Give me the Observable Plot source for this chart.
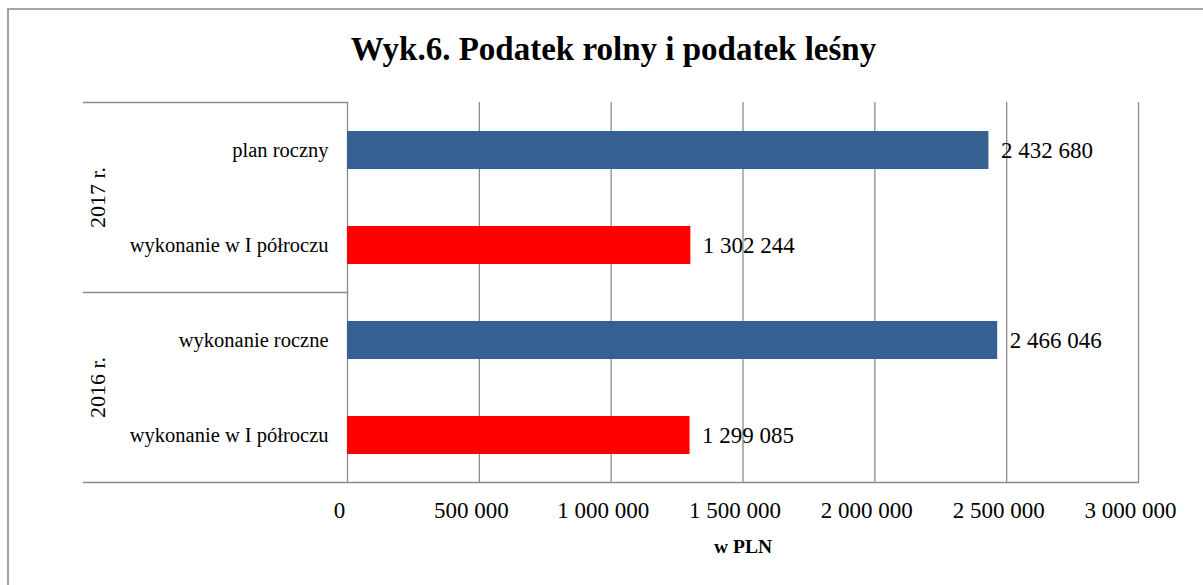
<!DOCTYPE html>
<html>
<head>
<meta charset="utf-8">
<script src="https://cdn.jsdelivr.net/npm/d3@7"></script>
<script src="https://cdn.jsdelivr.net/npm/@observablehq/plot@0.6"></script>
<style>
  html, body { margin: 0; padding: 0; background: #fff; overflow: hidden; }
  #wrap { position: relative; width: 1203px; height: 585px; overflow: hidden; }
  #border { position: absolute; left: 7px; top: 8px; width: 1300px; height: 700px; border: 2px solid #a3a3a3; box-sizing: border-box; }
  #title { position: absolute; left: 0; top: 33px; width: 1227px; text-align: center;
           font: bold 33px "Liberation Serif", "Times New Roman", serif; line-height: 33px; color: #000; }
  #chart { position: absolute; left: 0; top: 0; }
  #chart svg text { font-family: "Liberation Serif", "Times New Roman", serif; }
</style>
</head>
<body>
<div id="wrap">
  <div id="border"></div>
  <div id="title">Wyk.6. Podatek rolny i podatek leśny</div>
  <div id="chart"></div>
</div>
<script>
// ---- data ----
const groups = ["2017 r.", "2017 r.", "2016 r.", "2016 r."];
const categories = ["plan roczny", "wykonanie w I półroczu", "wykonanie roczne", "wykonanie w I półroczu"];
const slots = ["góra", "dół", "góra", "dół"];
const kinds = ["roczne", "półrocze", "roczne", "półrocze"];
const values = [2432680, 1302244, 2466046, 1299085];
const groupOrder = ["2017 r.", "2016 r."];
const xTicks = [0, 500000, 1000000, 1500000, 2000000, 2500000, 3000000];
const xLabel = ["w PLN"];
const kindColors = ["#376092", "#FF0000"];

const rows = values.map((v, i) => ({
  group: groups[i], slot: slots[i], category: categories[i], kind: kinds[i], value: v
}));

const fmt = v => d3.format(",")(v).replace(/,/g, " ");
const gridColor = "#8c8c8c";
const serif = "'Liberation Serif', 'Times New Roman', serif";

const chart = Plot.plot({
  width: 1203,
  height: 585,
  marginLeft: 347,
  marginRight: 65,
  marginTop: 101,
  marginBottom: 103,
  style: { fontFamily: serif, fontSize: "22px", color: "#000", background: "transparent", overflow: "visible" },
  x: { domain: [0, 3000000], axis: null },
  fy: { domain: groupOrder, padding: 0, axis: null, label: null },
  y: { domain: ["góra", "dół"], paddingInner: 0.6, paddingOuter: 0.3, axis: null },
  color: { domain: ["roczne", "półrocze"], range: kindColors },
  marks: [
    Plot.gridX(xTicks, { stroke: gridColor, strokeOpacity: 1, strokeWidth: 1.3 }),
    Plot.frame({ anchor: "top", insetLeft: -264, insetRight: 791, stroke: gridColor, strokeWidth: 1.3 }),
    Plot.frame({ anchor: "bottom", fy: () => "2016 r.", insetLeft: -264, stroke: gridColor, strokeWidth: 1.3 }),
    Plot.barX(rows, { fy: "group", y: "slot", x: "value", fill: "kind" }),
    Plot.text(rows, { fy: "group", y: "slot", x: "value", text: d => fmt(d.value), textAnchor: "start", dx: 12, fontSize: 23, fontFamily: serif }),
    Plot.text(rows, { fy: "group", y: "slot", text: "category", frameAnchor: "left", textAnchor: "end", dx: -19, fontSize: 20.5, fontFamily: serif }),
    Plot.text(groupOrder, { fy: d => d, text: d => d, frameAnchor: "left", textAnchor: "middle", rotate: -90, dx: -250, fontSize: 22, fontFamily: serif }),
    Plot.axisX(xTicks, { tickSize: 0, tickPadding: 19, tickFormat: fmt, dx: -8, fontSize: 23, fontFamily: serif, label: null }),
    Plot.text(xLabel, { fy: () => "2016 r.", text: d => d, frameAnchor: "bottom", lineAnchor: "middle", dy: 64, fontSize: 19.5, fontWeight: "bold", fontFamily: serif })
  ]
});
document.getElementById("chart").appendChild(chart);
</script>
</body>
</html>
